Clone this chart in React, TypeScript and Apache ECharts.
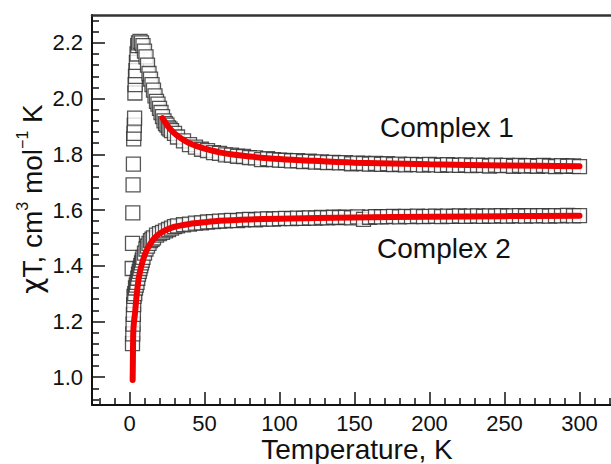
import React, { useEffect, useRef } from "react";
import * as echarts from "echarts";

// ---------- data ----------
const lowT1 = [1.8, 2.0, 2.2, 2.4, 2.6, 2.8, 3.0, 3.2, 3.4, 3.6, 3.8, 4.0, 4.3, 4.6, 5.0, 5.5, 6.0, 7.0, 8.0, 9.0, 10, 11, 12, 13, 14, 15, 16, 17, 18, 19, 20, 21, 22, 23, 24, 25, 26, 27, 28, 30];
const lowC1 = [1.39, 1.48, 1.59, 1.69, 1.765, 1.855, 1.875, 1.905, 1.93, 2.02, 2.05, 2.08, 2.10, 2.13, 2.16, 2.19, 2.20, 2.205, 2.20, 2.19, 2.17, 2.15, 2.12, 2.09, 2.07, 2.05, 2.03, 2.01, 1.99, 1.98, 1.965, 1.95, 1.935, 1.92, 1.91, 1.905, 1.895, 1.89, 1.885, 1.875];

const lowT2 = [2.0, 2.2, 2.4, 2.6, 2.8, 3.0, 3.5, 4.0, 4.5, 5.0, 5.5, 6.0, 6.5, 7.0, 7.5, 8.0, 8.5, 9.0, 10, 11, 12, 13, 14, 15, 16, 18, 20, 22, 24, 26, 28, 30];
const lowC2 = [1.12, 1.155, 1.19, 1.225, 1.26, 1.29, 1.30, 1.32, 1.33, 1.34, 1.355, 1.37, 1.38, 1.39, 1.40, 1.41, 1.42, 1.43, 1.445, 1.46, 1.47, 1.48, 1.49, 1.495, 1.50, 1.51, 1.515, 1.52, 1.525, 1.53, 1.535, 1.54];

const highT = [32, 36, 40, 44, 48, 52, 56, 60, 64, 68, 72, 76, 80, 84, 88, 92, 96, 100, 104, 108, 112, 116, 120, 124, 128, 132, 136, 140, 144, 148, 152, 156, 160, 164, 168, 172, 176, 180, 184, 188, 192, 196, 200, 204, 208, 212, 216, 220, 224, 228, 232, 236, 240, 244, 248, 252, 256, 260, 264, 268, 272, 276, 280, 284, 288, 292, 296, 300];
const highC1 = [1.862, 1.848, 1.835, 1.826, 1.818, 1.813, 1.806, 1.803, 1.798, 1.797, 1.793, 1.792, 1.788, 1.787, 1.781, 1.784, 1.781, 1.779, 1.778, 1.776, 1.777, 1.774, 1.775, 1.772, 1.773, 1.770, 1.771, 1.769, 1.770, 1.766, 1.768, 1.767, 1.765, 1.767, 1.764, 1.766, 1.763, 1.765, 1.762, 1.764, 1.763, 1.761, 1.764, 1.762, 1.760, 1.763, 1.761, 1.760, 1.762, 1.759, 1.761, 1.760, 1.758, 1.761, 1.759, 1.760, 1.757, 1.760, 1.758, 1.759, 1.757, 1.760, 1.758, 1.756, 1.759, 1.757, 1.758, 1.756];
const highC2 = [1.543, 1.547, 1.549, 1.553, 1.554, 1.557, 1.558, 1.560, 1.561, 1.563, 1.562, 1.565, 1.566, 1.565, 1.567, 1.568, 1.567, 1.569, 1.570, 1.569, 1.571, 1.570, 1.572, 1.571, 1.573, 1.572, 1.574, 1.573, 1.574, 1.572, 1.575, 1.566, 1.574, 1.576, 1.575, 1.576, 1.577, 1.575, 1.577, 1.576, 1.578, 1.576, 1.577, 1.578, 1.576, 1.578, 1.577, 1.579, 1.577, 1.578, 1.579, 1.577, 1.579, 1.578, 1.580, 1.578, 1.579, 1.580, 1.578, 1.580, 1.579, 1.580, 1.578, 1.580, 1.579, 1.581, 1.579, 1.580];

const fitT1 = [22, 25, 30, 35, 40, 50, 60, 70, 80, 100, 120, 150, 200, 250, 300];
const fitC1 = [1.93, 1.905, 1.875, 1.855, 1.84, 1.82, 1.807, 1.798, 1.792, 1.783, 1.777, 1.77, 1.764, 1.76, 1.757];

const fitT2 = [2.1, 2.3, 2.5, 3, 3.7, 4.5, 6, 7.5, 9, 11, 13.5, 16, 20, 25, 30, 40, 50, 60, 80, 100, 150, 200, 250, 300];
const fitC2 = [0.99, 1.08, 1.16, 1.2, 1.23, 1.28, 1.35, 1.39, 1.42, 1.45, 1.475, 1.495, 1.515, 1.53, 1.54, 1.55, 1.556, 1.561, 1.566, 1.569, 1.573, 1.576, 1.578, 1.579];

const xMajor = [0, 50, 100, 150, 200, 250, 300];
const xMinor = [-20, -10, 10, 20, 30, 40, 60, 70, 80, 90, 110, 120, 130, 140, 160, 170, 180, 190, 210, 220, 230, 240, 260, 270, 280, 290, 310, 320];
const yMajor = [1.0, 1.2, 1.4, 1.6, 1.8, 2.0, 2.2];
const yMinor = [0.92, 0.96, 1.04, 1.08, 1.12, 1.16, 1.24, 1.28, 1.32, 1.36, 1.44, 1.48, 1.52, 1.56, 1.64, 1.68, 1.72, 1.76, 1.84, 1.88, 1.92, 1.96, 2.04, 2.08, 2.12, 2.16, 2.24, 2.28];

const labels = ["Complex 1", "Complex 2"];
const xTitle = "Temperature, K";

const zip = (xs: number[], ys: number[]) => xs.map((x, i) => [x, ys[i]]);

const FONT = "Liberation Sans, Arial, Helvetica, sans-serif";

export default function App() {
  const ref = useRef<HTMLDivElement>(null);
  useEffect(() => {
    if (!ref.current) return;
    const chart = echarts.init(ref.current, null, { renderer: "svg" });
    const xMin = -25, xMax = 321, yMin = 0.9, yMax = 2.3;
    const scatterStyle = {
      type: "scatter",
      symbol: "rect",
      symbolSize: 14,
      itemStyle: { color: "#ffffff", borderColor: "#2a2a2a", borderWidth: 1.3 },
      silent: true,
    };
    const fitStyle = {
      type: "line",
      showSymbol: false,
      smooth: 0.3,
      lineStyle: { color: "#f00000", width: 6, cap: "round" },
      silent: true,
    };
    chart.setOption({
      animation: false,
      grid: { left: 92, right: 0, top: 15, bottom: 59, containLabel: false, outerBoundsMode: "none" },
      xAxis: [
        {
          type: "value", min: xMin, max: xMax, position: "bottom",
          axisLine: { show: true, onZero: false, lineStyle: { color: "#111", width: 2 } },
          axisTick: { show: true, inside: true, length: 13, customValues: xMajor, lineStyle: { color: "#111", width: 1.5 } },
          axisLabel: { show: true, customValues: xMajor, margin: 7, fontSize: 22, color: "#111", fontFamily: FONT },
          splitLine: { show: false },
        },
        {
          type: "value", min: xMin, max: xMax, position: "bottom",
          axisLine: { show: false, onZero: false },
          axisTick: { show: true, inside: true, length: 7, customValues: xMinor, lineStyle: { color: "#111", width: 1.5 } },
          axisLabel: { show: false },
          splitLine: { show: false },
        },
        {
          type: "value", min: xMin, max: xMax, position: "top",
          axisLine: { show: true, onZero: false, lineStyle: { color: "#333", width: 2.5 } },
          axisTick: { show: false },
          axisLabel: { show: false },
          splitLine: { show: false },
        },
      ],
      yAxis: [
        {
          type: "value", min: yMin, max: yMax, position: "left",
          axisLine: { show: true, onZero: false, lineStyle: { color: "#111", width: 2 } },
          axisTick: { show: true, inside: true, length: 13, customValues: yMajor, lineStyle: { color: "#111", width: 1.5 } },
          axisLabel: { show: true, customValues: yMajor, margin: 9, fontSize: 22, color: "#111", fontFamily: FONT, formatter: (v: number) => v.toFixed(1) },
          splitLine: { show: false },
        },
        {
          type: "value", min: yMin, max: yMax, position: "left",
          axisLine: { show: false, onZero: false },
          axisTick: { show: true, inside: true, length: 7, customValues: yMinor, lineStyle: { color: "#111", width: 1.5 } },
          axisLabel: { show: false },
          splitLine: { show: false },
        },
      ],
      graphic: [
        {
          type: "text", x: 30, y: 199, rotation: Math.PI / 2,
          style: {
            text: "{c|χ}{a|T, cm}{s|3}{a| mol}{s|−1}{a| K}",
            align: "center", verticalAlign: "middle",
            rich: {
              c: { fontSize: 28, fontFamily: "DejaVu Sans, Noto Sans, sans-serif", fill: "#111", lineHeight: 32, verticalAlign: "bottom" },
              a: { fontSize: 28, fontFamily: FONT, fill: "#111", lineHeight: 32, verticalAlign: "bottom" },
              s: { fontSize: 16, fontFamily: FONT, fill: "#111", lineHeight: 32, verticalAlign: "top", padding: [0, 0, 12, 0] },
            },
          },
        },
        {
          type: "text", x: 357, y: 449,
          style: { text: xTitle, align: "center", verticalAlign: "middle", fontSize: 28, fontFamily: FONT, fill: "#111" },
        },
        {
          type: "text", x: 447, y: 127,
          style: { text: labels[0], align: "center", verticalAlign: "middle", fontSize: 28, fontFamily: FONT, fill: "#111" },
        },
        {
          type: "text", x: 444, y: 248,
          style: { text: labels[1], align: "center", verticalAlign: "middle", fontSize: 28, fontFamily: FONT, fill: "#111" },
        },
      ],
      series: [
        { ...scatterStyle, name: "c1-low", data: zip(lowT1, lowC1) },
        { ...scatterStyle, name: "c1-high", data: zip(highT, highC1) },
        { ...scatterStyle, name: "c2-low", data: zip(lowT2, lowC2) },
        { ...scatterStyle, name: "c2-high", data: zip(highT, highC2) },
        { ...fitStyle, name: "fit1", data: zip(fitT1, fitC1) },
        { ...fitStyle, name: "fit2", data: zip(fitT2, fitC2) },
      ],
    });
    return () => chart.dispose();
  }, []);
  return (
    <div
      ref={ref}
      style={{ position: "absolute", left: 0, top: 0, width: 611, height: 464, background: "#fff" }}
    />
  );
}
